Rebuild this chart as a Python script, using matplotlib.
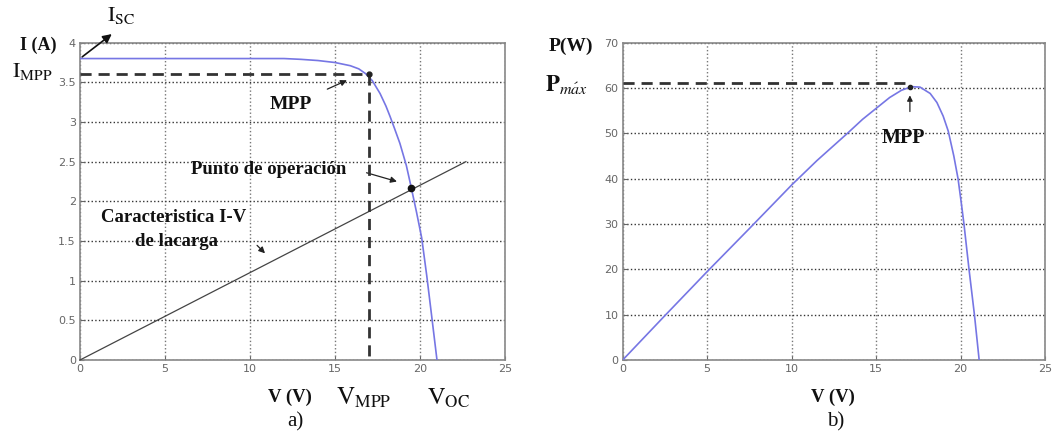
import matplotlib
matplotlib.use("Agg")
import matplotlib.pyplot as plt

# I-V curve of the panel
v_iv = [0, 5, 10, 12, 13, 14, 15, 15.9, 16.4, 16.8, 17.2, 17.65, 18.0, 18.24, 18.5,
        18.82, 19.2, 19.47, 19.8, 20.1, 20.4, 20.69, 21.0]
i_iv = [3.8, 3.8, 3.8, 3.8, 3.79, 3.775, 3.75, 3.71, 3.67, 3.61, 3.52, 3.36, 3.2, 3.07, 2.92,
        2.73, 2.45, 2.19, 1.86, 1.54, 1.06, 0.55, 0.0]
# load line
v_load = [0, 22.7]
i_load = [0, 2.5]
# P-V curve
v_pv = [0, 2.5, 5, 7.5, 10, 11.5, 13.3, 14.2, 15, 15.8, 16.5, 17.1, 17.6, 18.2, 18.6,
        18.97, 19.27, 19.6, 19.85, 20.03, 20.2, 20.5, 20.82, 21.1]
p_pv = [0, 9.8, 19.5, 29, 38.6, 44, 50, 53.1, 55.5, 57.9, 59.5, 60.3, 60.2, 58.8, 56.8,
        53.8, 50.5, 45, 40, 35, 30, 20, 10, 0]

v_mpp, i_mpp, p_mpp = 17, 3.6, 61
v_op, i_op = 19.5, 2.17

plt.rcParams['mathtext.fontset'] = 'stix'
serif = 'Liberation Serif'
blue = '#7676e4'
tickc = '#666666'

fig = plt.figure(figsize=(10.54, 4.41), dpi=100)
ax1 = fig.add_axes([0.0759, 0.1837, 0.4032, 0.7195])
ax2 = fig.add_axes([0.5908, 0.1837, 0.4007, 0.7195])

def style(ax, ylim, yticks, ylabels):
    ax.set_xlim(0, 25)
    ax.set_ylim(*ylim)
    ax.set_xticks([0, 5, 10, 15, 20, 25])
    ax.set_yticks(yticks)
    ax.set_yticklabels(ylabels)
    ax.tick_params(labelsize=8, colors=tickc, length=3, direction='in', pad=3)
    ax.yaxis.grid(True, linestyle=':', color='#333333', lw=1.0)
    ax.xaxis.grid(True, linestyle=':', color='#777777', lw=1.0)
    for s in ax.spines.values():
        s.set_color('#888888')
        s.set_linewidth(1.2)

style(ax1, (0, 4), [0, 0.5, 1, 1.5, 2, 2.5, 3, 3.5, 4],
      ['0', '0.5', '1', '1.5', '2', '2.5', '3', '3.5', '4'])
style(ax2, (0, 70), [0, 10, 20, 30, 40, 50, 60, 70],
      ['0', '10', '20', '30', '40', '50', '60', '70'])

# ---- left
ax1.plot(v_iv, i_iv, color=blue, lw=1.2, zorder=3, solid_joinstyle='round')
ax1.plot(v_load, i_load, color='#444444', lw=0.9, zorder=3, clip_on=False)
ax1.plot([0, v_mpp], [i_mpp, i_mpp], color='#333333', lw=2, ls=(0, (4, 2.5)), zorder=4)
ax1.plot([v_mpp, v_mpp], [i_mpp, 0], color='#333333', lw=2, ls=(0, (4, 2.5)), zorder=4)
ax1.plot([v_mpp], [i_mpp], 'o', color='#222222', ms=3.5, zorder=5)
ax1.plot([v_op], [i_op], 'o', color='#111111', ms=4.5, zorder=5)

bold = dict(family=serif, fontweight='bold', color='#111111')
ax1.text(12.4, 3.22, 'MPP', fontsize=14, ha='center', va='center', **bold)
ax1.text(11.1, 2.40, 'Punto de operación', fontsize=13.5, ha='center', va='center', **bold)
ax1.text(5.5, 1.79, 'Caracteristica I-V', fontsize=13.5, ha='center', va='center', **bold)
ax1.text(5.7, 1.50, 'de lacarga', fontsize=13.5, ha='center', va='center', **bold)

arr = dict(arrowstyle='-|>', color='#222222', lw=0.9, mutation_scale=9)
ax1.annotate('', xy=(15.85, 3.54), xytext=(14.4, 3.40), arrowprops=arr)
ax1.annotate('', xy=(18.8, 2.24), xytext=(16.7, 2.37), arrowprops=arr)
ax1.annotate('', xy=(11.0, 1.32), xytext=(10.3, 1.47), arrowprops=arr)
ax1.annotate('', xy=(2.0, 4.13), xytext=(0, 3.8),
             arrowprops=dict(arrowstyle='-|>', color='#111111', lw=1.2, mutation_scale=13),
             annotation_clip=False)

def ftext(x, y, s, size, **kw):
    fig.text(x / 1054, 1 - y / 441, s, fontsize=size, **kw)

ftext(38, 45, 'I (A)', 13, ha='center', va='center', **bold)
ftext(32, 71, r'$\mathrm{I_{MPP}}$', 16, ha='center', va='center', color='#111111')
ftext(121, 16, r'$\mathrm{I_{SC}}$', 16, ha='center', va='center', color='#111111')
ftext(290, 397, 'V (V)', 13.5, ha='center', va='center', **bold)
ftext(364, 398, r'$\mathrm{V_{MPP}}$', 18, ha='center', va='center', color='#111111')
ftext(448, 398, r'$\mathrm{V_{OC}}$', 17.5, ha='center', va='center', color='#111111')
ftext(295, 422, 'a)', 15, ha='center', va='center', family=serif, color='#111111')

# ---- right
ax2.plot(v_pv, p_pv, color=blue, lw=1.2, zorder=3, solid_joinstyle='round')
ax2.plot([0, v_mpp], [p_mpp, p_mpp], color='#333333', lw=2, ls=(0, (4, 2.5)), zorder=4)
ax2.plot([v_mpp], [60.3], 'o', color='#222222', ms=3, zorder=5)
ax2.annotate('', xy=(17, 59.0), xytext=(17, 54.2),
             arrowprops=dict(arrowstyle='-|>', color='#222222', lw=0.9, mutation_scale=8))
ax2.text(16.6, 49.0, 'MPP', fontsize=14.5, ha='center', va='center', **bold)

ftext(571, 46, 'P(W)', 14, ha='center', va='center', **bold)
ftext(567, 84, r'$\mathbf{P}_{\mathit{m\acute{a}x}}$', 16.5, ha='center', va='center', color='#111111')
ftext(833, 397, 'V (V)', 13.5, ha='center', va='center', **bold)
ftext(836, 422, 'b)', 15, ha='center', va='center', family=serif, color='#111111')

fig.savefig('out.png', dpi=100)
